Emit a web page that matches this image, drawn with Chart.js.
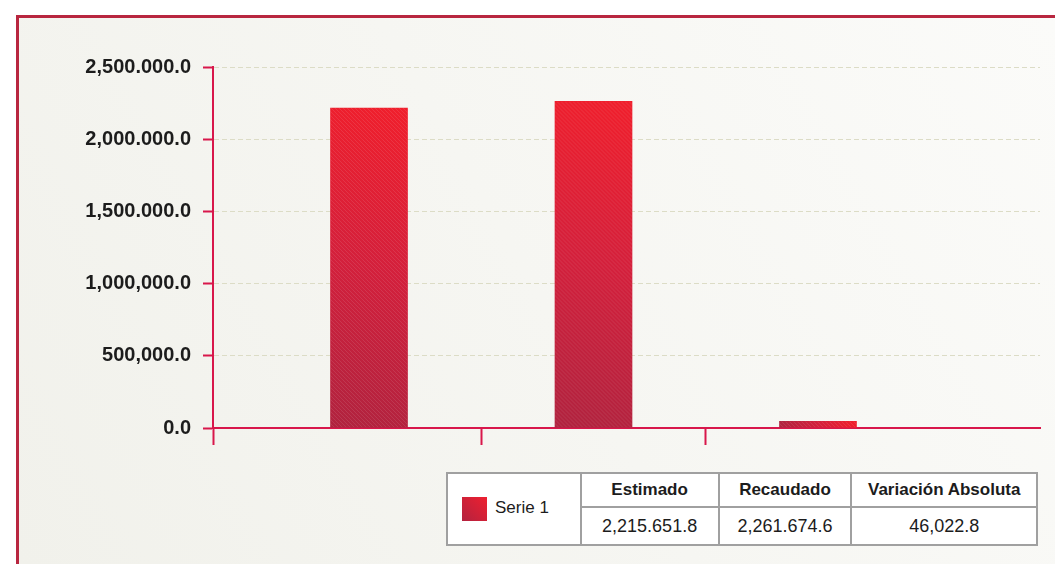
<!DOCTYPE html>
<html>
<head>
<meta charset="utf-8">
<script src="https://cdn.jsdelivr.net/npm/chart.js@4.4.0/dist/chart.umd.min.js"></script>
<style>
  html, body { margin: 0; padding: 0; background: #fff; }
  #wrap { position: relative; width: 1055px; height: 564px; overflow: hidden; }
  #frame {
    position: absolute; left: 16px; top: 15px; right: 0; bottom: 0;
    border-top: 3px solid #b8263f; border-left: 3px solid #b8263f;
    background: linear-gradient(60deg, #f1f1eb 0%, #f6f6f2 50%, #fbfbf9 100%);
  }
  #chart { position: absolute; left: 0; top: 0; }
  #tbl {
    position: absolute; left: 446px; top: 472px; width: 592px; height: 74px;
    border-collapse: collapse; background: #fff;
    font-family: "Liberation Sans", Arial, sans-serif; color: #1c1c1c;
  }
  #tbl td { border: 2px solid #a0a0a0; text-align: center; padding: 0; }
  #tbl .hd { font-weight: bold; font-size: 17px; height: 32px; }
  #tbl .val { font-size: 18px; }
  #tbl .leg { font-size: 17px; text-align: left; padding-left: 14px; }
  .sw { display: inline-block; width: 25px; height: 24px; vertical-align: middle; margin-right: 8px;
        background: linear-gradient(45deg, #b3223f, #ee2030); }
</style>
</head>
<body>
<div id="wrap">
  <div id="frame"></div>
  <canvas id="chart" width="1055" height="564"></canvas>
  <table id="tbl"></table>
</div>
<script>
var categories = ['Estimado', 'Recaudado', 'Variación Absoluta'];
var values = [2215651.8, 2261674.6, 46022.8];
var valueLabels = ['2,215.651.8', '2,261.674.6', '46,022.8'];
var seriesName = 'Serie 1';
var yTickLabels = ['0.0', '500,000.0', '1,000,000.0', '1,500.000.0', '2,000.000.0', '2,500.000.0'];

var axisRed = '#d8174b';
var xMin = 0.305, xMax = 3.989;

// table under the chart
var tbl = document.getElementById('tbl');
var r1 = '<tr><td class="leg" rowspan="2" style="width:118px"><span class="sw"></span>' + seriesName + '</td>';
var widths = [136, 131, 184];
categories.forEach(function(c, i) { r1 += '<td class="hd" style="width:' + widths[i] + 'px">' + c + '</td>'; });
r1 += '</tr><tr>';
valueLabels.forEach(function(v) { r1 += '<td class="val">' + v + '</td>'; });
r1 += '</tr>';
tbl.innerHTML = r1;

// diagonal hatching on bars
var hatch = {
    id: 'hatch',
    afterDatasetsDraw: function(chart) {
        var ctx = chart.ctx;
        chart.getDatasetMeta(0).data.forEach(function(bar) {
            var p = bar.getProps(['x', 'y', 'base', 'width']);
            var l = p.x - p.width / 2, t = p.y, h = p.base - p.y;
            ctx.save();
            ctx.beginPath();
            ctx.rect(l, t, p.width, h);
            ctx.clip();
            ctx.strokeStyle = 'rgba(255,255,255,0.10)';
            ctx.lineWidth = 1;
            for (var s = -h; s < p.width + h; s += 4) {
                ctx.beginPath();
                ctx.moveTo(l + s, t);
                ctx.lineTo(l + s + h, t + h);
                ctx.stroke();
            }
            ctx.restore();
        });
    }
};

Chart.defaults.font.family = '"Liberation Sans", Arial, sans-serif';

new Chart(document.getElementById('chart').getContext('2d'), {
    type: 'bar',
    data: {
        datasets: [{
            label: seriesName,
            data: values.map(function(v, i) { return { x: i + 1, y: v }; }),
            barThickness: 77,
            borderWidth: 0,
            backgroundColor: function(context) {
                var chart = context.chart;
                var xs = chart.scales.x, ys = chart.scales.y;
                if (!xs || !ys || !context.raw) return '#d6203a';
                var cx = xs.getPixelForValue(context.raw.x);
                var top = ys.getPixelForValue(context.raw.y);
                var bottom = ys.getPixelForValue(0);
                if (!isFinite(cx) || !isFinite(top) || !isFinite(bottom)) return '#d6203a';
                var g = chart.ctx.createLinearGradient(cx - 38, bottom, cx + 38, top);
                g.addColorStop(0, '#b0233f');
                g.addColorStop(0.5, '#d3203c');
                g.addColorStop(1, '#f01f2c');
                return g;
            }
        }]
    },
    options: {
        responsive: false,
        animation: false,
        layout: { padding: { top: 67, bottom: 119, left: 0, right: 15 } },
        plugins: {
            legend: { display: false },
            tooltip: { enabled: false }
        },
        scales: {
            x: {
                type: 'linear',
                min: xMin,
                max: xMax,
                offset: false,
                afterBuildTicks: function(scale) {
                    scale.ticks = [{ value: xMin }, { value: 1.5 }, { value: 2.5 }];
                },
                afterFit: function(scale) { scale.height = 17; },
                ticks: { display: false },
                grid: {
                    offset: false,
                    drawOnChartArea: false,
                    tickLength: 17,
                    tickColor: axisRed,
                    tickWidth: 2
                },
                border: { color: axisRed, width: 2 }
            },
            y: {
                min: 0,
                max: 2500000,
                afterFit: function(scale) { scale.width = 213; },
                ticks: {
                    stepSize: 500000,
                    padding: 12,
                    color: '#1c1c1c',
                    font: { size: 20, weight: 'bold' },
                    callback: function(v, i) { return yTickLabels[i]; }
                },
                grid: {
                    color: '#dcdcc6',
                    lineWidth: 1,
                    tickLength: 10,
                    tickColor: axisRed,
                    tickWidth: 2
                },
                border: { color: axisRed, width: 2, dash: [5, 3] }
            }
        }
    },
    plugins: [hatch]
});
</script>
</body>
</html>
